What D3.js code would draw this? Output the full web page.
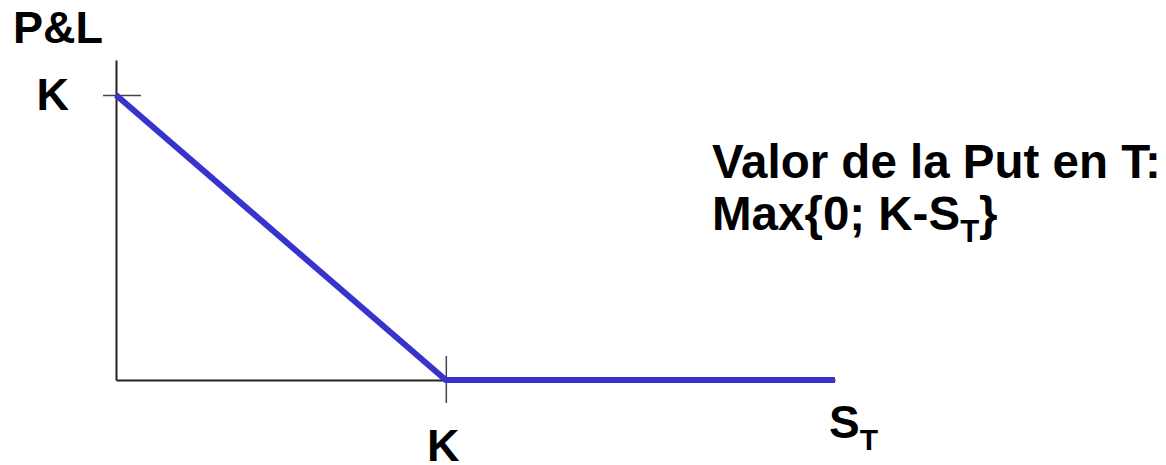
<!DOCTYPE html>
<html>
<head>
<meta charset="utf-8">
<script src="https://cdn.jsdelivr.net/npm/d3@7"></script>
<style>
  html, body { margin: 0; padding: 0; background: #fff; }
  svg text { font-family: "Liberation Sans", Arial, sans-serif; font-weight: bold; fill: #000; }
</style>
</head>
<body>
<svg id="chart" width="1166" height="465"></svg>
<script>
// ─── Put payoff at expiry ────────────────────────────────────────────────────
const spotValues   = [0, 1, 2.18];   // S_T, in units of K
const payoffValues = [1, 0, 0];      // Max{0; K-S_T}, in units of K
const xTicks = [1];
const yTicks = [1];
const tickLabel = 'K';

const svg = d3.select('#chart');

const x = d3.scaleLinear().domain([0, 2.18]).range([116, 835]);
const y = d3.scaleLinear().domain([0, 1.123]).range([380, 60]);

// axes
const gx = svg.append('g').attr('transform', `translate(0,${y(0)})`)
  .call(d3.axisBottom(x).tickValues(xTicks).tickSizeOuter(0).tickSize(0).tickFormat(() => tickLabel));
const gy = svg.append('g').attr('transform', `translate(${x(0)},0)`)
  .call(d3.axisLeft(y).tickValues(yTicks).tickSizeOuter(0).tickSize(0).tickFormat(() => tickLabel));

[gx, gy].forEach(g => {
  g.select('.domain').attr('stroke', '#222').attr('stroke-width', 2);
  g.selectAll('.tick text').attr('font-size', 45).attr('fill', '#000')
    .attr('font-family', '"Liberation Sans", Arial, sans-serif').attr('font-weight', 'bold');
});
// ticks cross the axis line
gx.selectAll('.tick line').attr('stroke', '#444').attr('stroke-width', 1.5).attr('y1', -24).attr('y2', 23);
gx.selectAll('.tick text').attr('y', 81).attr('dy', 0).attr('x', -3);
gy.selectAll('.tick line').attr('stroke', '#444').attr('stroke-width', 1.5).attr('x1', -13).attr('x2', 25);
gy.selectAll('.tick text').attr('x', -47).attr('dy', 0).attr('y', 14);

// payoff line
const pts = spotValues.map((s, i) => [s, payoffValues[i]]);
svg.append('path')
  .datum(pts)
  .attr('fill', 'none')
  .attr('stroke', '#3833CC')
  .attr('stroke-width', 6)
  .attr('stroke-linejoin', 'miter')
  .attr('d', d3.line().x(d => x(d[0])).y(d => y(d[1])));

// axis titles
svg.append('text').attr('x', 13).attr('y', 43).attr('font-size', 45).text('P&L');
const st = svg.append('text').attr('x', 829).attr('y', 438).attr('font-size', 46);
st.append('tspan').text('S');
st.append('tspan').attr('font-size', 30).attr('dy', 12).text('T');

// annotation
svg.append('text').attr('x', 712).attr('y', 178).attr('font-size', 47.5).text('Valor de la Put en T:');
const mx = svg.append('text').attr('x', 712).attr('y', 230).attr('font-size', 47.5);
mx.append('tspan').text('Max{0; K-S');
mx.append('tspan').attr('font-size', 31).attr('dy', 12).text('T');
mx.append('tspan').attr('dy', -12).text('}');
</script>
</body>
</html>
